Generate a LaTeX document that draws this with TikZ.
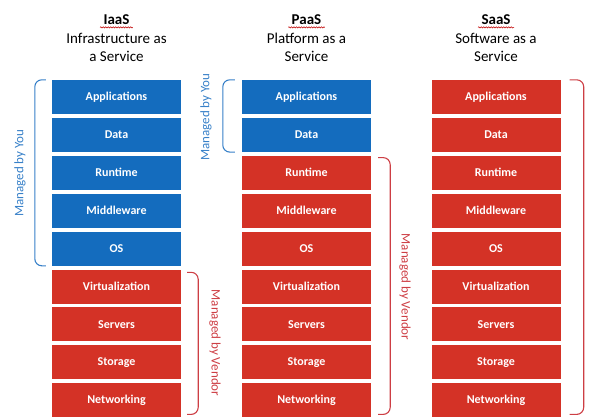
\documentclass[tikz,border=0pt]{standalone}
\usepackage{fontspec}
\setmainfont{Carlito}
\usetikzlibrary{decorations.pathmorphing}

\definecolor{youblue}{RGB}{20,108,190}
\definecolor{vendred}{RGB}{212,50,38}
\definecolor{braceblue}{RGB}{55,128,200}
\definecolor{bracered}{RGB}{205,62,68}

\tikzset{
  layer/.style={minimum width=129pt, minimum height=34pt, inner sep=0pt,
    text=white, font=\bfseries\fontsize{12}{14}\selectfont},
  head/.style={font=\bfseries\fontsize{15}{18}\selectfont},
  sub/.style={font=\fontsize{15}{18}\selectfont, align=center},
  spell/.style={draw=red!75!black, line width=0.5pt,
    decorate, decoration={snake, segment length=2.5pt, amplitude=0.6pt}},
  youbrace/.style={draw=braceblue, line width=1.1pt, rounded corners=7pt},
  vendbrace/.style={draw=bracered, line width=1.1pt, rounded corners=7pt},
  youlabel/.style={text=braceblue, rotate=90, font=\fontsize{13}{15}\selectfont},
  vendlabel/.style={text=bracered, rotate=-90, font=\fontsize{13}{15}\selectfont}
}

\begin{document}
\begin{tikzpicture}[x=1pt,y=-1pt]
  \useasboundingbox (0,0) rectangle (595,416);
  \clip (0,0) rectangle (595,416);

  % the three stacks
  \foreach \col/\cx/\nblue in {iaas/116.5/5, paas/306.5/2, saas/496/0}
    \foreach \name [count=\i from 0] in {Applications,Data,Runtime,Middleware,OS,Virtualization,Servers,Storage,Networking} {
      \ifnum\i<\nblue \def\fillc{youblue}\else\def\fillc{vendred}\fi
      \node[layer, fill=\fillc] (\col-\i) at (\cx,97+37.9*\i) {\name};
    }

  % titles
  \node[head] (iaas-t) at (116.5,20) {IaaS};
  \node[sub]  (iaas-s) at (116.5,47) {Infrastructure as\\a Service};
  \node[head] (paas-t) at (306.5,20) {PaaS};
  \node[sub]  (paas-s) at (306.5,47) {Platform as a\\Service};
  \node[head] (saas-t) at (496,20) {SaaS};
  \node[sub]  (saas-s) at (496,47) {Software as a\\Service};
  \draw[spell] ([yshift=-2.5pt]iaas-t.base west) -- ([yshift=-2.5pt]iaas-t.base east);
  \draw[spell] ([yshift=-2.5pt]paas-t.base west) -- ([yshift=-2.5pt]paas-t.base east);
  \draw[spell] ([yshift=-2.5pt]saas-t.base west) -- ([yshift=-2.5pt]saas-t.base east);

  % brackets
  \draw[youbrace] ([xshift=-6pt]iaas-0.north west) -| ([xshift=-17pt]iaas-2.west)
    |- ([xshift=-6pt]iaas-4.south west);
  \draw[vendbrace] ([xshift=6pt,yshift=-3pt]iaas-5.north east) -| ([xshift=17pt]iaas-7.east)
    |- ([xshift=6pt,yshift=3pt]iaas-8.south east);
  \draw[youbrace] ([xshift=-7pt]paas-0.north west) -| ([xshift=-19pt]paas-1.west)
    |- ([xshift=-7pt]paas-1.south west);
  \draw[vendbrace] ([xshift=7pt,yshift=-2pt]paas-2.north east) -| ([xshift=19pt]paas-5.east)
    |- ([xshift=7pt,yshift=3pt]paas-8.south east);
  \draw[vendbrace] ([xshift=9pt]saas-0.north east) -| ([xshift=23pt]saas-4.east)
    |- ([xshift=9pt,yshift=3pt]saas-8.south east);

  % bracket labels
  \node[youlabel]  (iaas-you)  at (20,173) {Managed by You};
  \node[youlabel]  (paas-you)  at (206,117) {Managed by You};
  \node[vendlabel] (iaas-vend) at (215,343) {Managed by Vendor};
  \node[vendlabel] (paas-vend) at (405,287) {Managed by Vendor};
  \node[vendlabel] (saas-vend) at (601,246) {Managed by Vendor};
\end{tikzpicture}
\end{document}
